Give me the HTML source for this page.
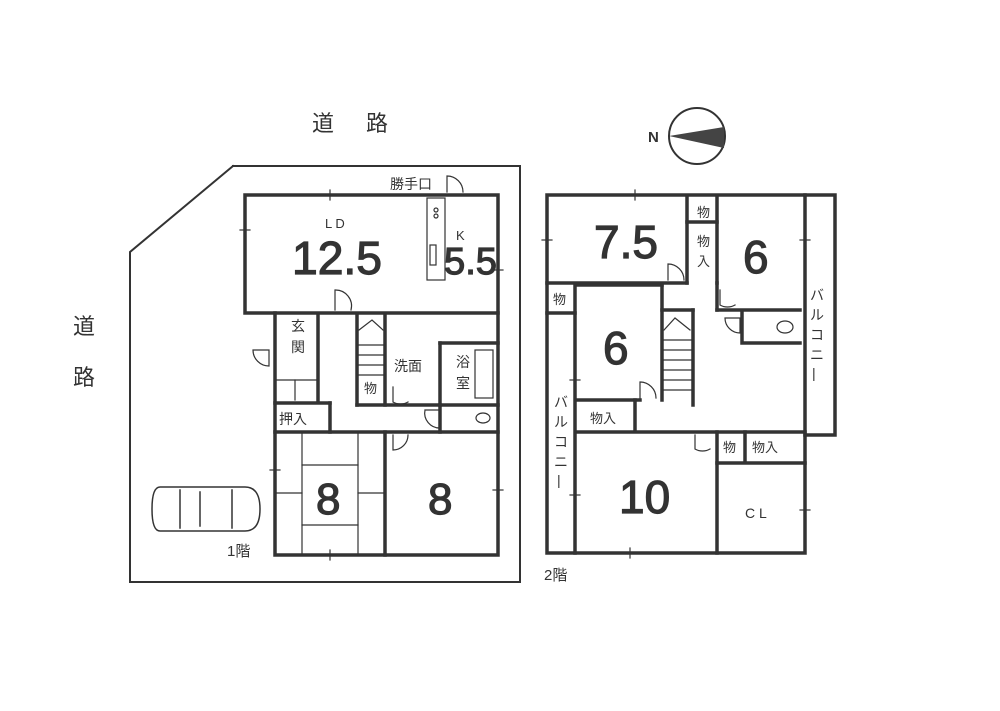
<!DOCTYPE html>
<html><head><meta charset="utf-8"><style>
body{margin:0;background:#fff}
svg text{font-family:"Liberation Sans","Noto Sans CJK JP",sans-serif;fill:#333}
.j{font-family:"Noto Sans CJK JP",sans-serif}
.n{stroke:#333;stroke-width:1.2}
</style></head><body>
<svg width="1000" height="706" viewBox="0 0 1000 706" xmlns="http://www.w3.org/2000/svg">
<rect width="1000" height="706" fill="#fff"/>
<g fill="none" stroke="#333" stroke-linecap="square">
<polyline points="233,166 520,166 520,582 130,582 130,252 233,166" stroke-width="2"/>
<g stroke-width="3.5">
<rect x="245" y="195" width="253" height="118"/>
<polyline points="275,313 275,555 498,555 498,313"/>
<line x1="318" y1="315" x2="318" y2="400"/>
<line x1="275" y1="403" x2="330" y2="403"/>
<line x1="330" y1="403" x2="330" y2="432"/>
<line x1="275" y1="432" x2="498" y2="432"/>
<line x1="385" y1="432" x2="385" y2="555"/>
<line x1="357" y1="315" x2="357" y2="405"/>
<line x1="385" y1="315" x2="385" y2="405"/>
<line x1="357" y1="405" x2="440" y2="405"/>
<line x1="440" y1="343" x2="440" y2="432"/>
<line x1="440" y1="343" x2="498" y2="343"/>
<line x1="440" y1="405" x2="498" y2="405"/>
</g>
<g stroke-width="1.2">
<rect x="427" y="198" width="18" height="82"/>
<rect x="430" y="245" width="6" height="20"/>
<circle cx="436" cy="210" r="2"/><circle cx="436" cy="216" r="2"/>
<line x1="302" y1="434" x2="302" y2="553"/><line x1="358" y1="434" x2="358" y2="553"/>
<line x1="302" y1="465" x2="358" y2="465"/><line x1="302" y1="525" x2="358" y2="525"/>
<line x1="277" y1="493" x2="302" y2="493"/><line x1="358" y1="493" x2="383" y2="493"/>
<line x1="359" y1="345" x2="383" y2="345"/><line x1="359" y1="355" x2="383" y2="355"/><line x1="359" y1="365" x2="383" y2="365"/><line x1="359" y1="375" x2="383" y2="375"/>
<polyline points="359,330 372,320 383,330"/>
<rect x="475" y="350" width="18" height="48"/>
<ellipse cx="483" cy="418" rx="7" ry="5"/>
<path d="M447,192 v-16 a16,16 0 0 1 16,16"/>
<path d="M335,310 v-20 a16,16 0 0 1 16,20"/>
<path d="M253,350 h16 v16 a16,16 0 0 1 -16,-16"/>
<path d="M393,387 v15 a15,15 0 0 0 15,0"/>
<path d="M393,435 v15 a15,15 0 0 0 15,-15"/>
<path d="M425,410 h15 v18 a15,15 0 0 1 -15,-18"/>
<line x1="240" y1="230" x2="250" y2="230"/><line x1="493" y1="270" x2="503" y2="270"/>
<line x1="270" y1="470" x2="280" y2="470"/><line x1="493" y1="490" x2="503" y2="490"/>
<line x1="330" y1="190" x2="330" y2="200"/><line x1="330" y1="550" x2="330" y2="560"/>
<line x1="295" y1="380" x2="295" y2="400"/><line x1="277" y1="380" x2="316" y2="380"/>
</g>
<g stroke-width="3.5">
<rect x="547" y="195" width="258" height="358"/>
<line x1="547" y1="283" x2="687" y2="283"/>
<line x1="687" y1="197" x2="687" y2="283"/>
<line x1="717" y1="197" x2="717" y2="283"/>
<line x1="687" y1="222" x2="717" y2="222"/>
<line x1="717" y1="283" x2="717" y2="310"/>
<line x1="717" y1="310" x2="800" y2="310"/>
<polyline points="805,195 835,195 835,435 805,435"/>
<line x1="547" y1="313" x2="575" y2="313"/>
<line x1="575" y1="285" x2="575" y2="553"/>
<line x1="578" y1="285" x2="662" y2="285"/>
<line x1="662" y1="285" x2="662" y2="400"/>
<line x1="578" y1="400" x2="640" y2="400"/>
<line x1="635" y1="400" x2="635" y2="430"/>
<line x1="578" y1="432" x2="805" y2="432"/>
<line x1="662" y1="310" x2="693" y2="310"/><line x1="693" y1="310" x2="693" y2="405"/>
<polyline points="742,313 742,343 800,343"/>
<line x1="717" y1="432" x2="717" y2="553"/>
<line x1="745" y1="432" x2="745" y2="462"/>
<line x1="717" y1="463" x2="805" y2="463"/>
</g>
<g stroke-width="1.2">
<line x1="664" y1="340" x2="691" y2="340"/><line x1="664" y1="350" x2="691" y2="350"/><line x1="664" y1="360" x2="691" y2="360"/><line x1="664" y1="370" x2="691" y2="370"/><line x1="664" y1="380" x2="691" y2="380"/><line x1="664" y1="390" x2="691" y2="390"/>
<polyline points="664,330 675,318 690,330"/>
<ellipse cx="785" cy="327" rx="8" ry="6"/>
<path d="M668,280 v-16 a16,16 0 0 1 16,16"/>
<path d="M640,398 v-16 a16,16 0 0 1 16,16"/>
<path d="M720,290 v15 a15,15 0 0 0 15,0"/>
<path d="M725,318 h15 v15 a15,15 0 0 1 -15,-15"/>
<path d="M695,435 v14 a15,15 0 0 0 15,0"/>
<line x1="542" y1="240" x2="552" y2="240"/><line x1="800" y1="240" x2="810" y2="240"/>
<line x1="570" y1="380" x2="580" y2="380"/><line x1="570" y1="495" x2="580" y2="495"/>
<line x1="800" y1="510" x2="810" y2="510"/><line x1="635" y1="190" x2="635" y2="200"/>
<line x1="630" y1="548" x2="630" y2="558"/>
<circle cx="697" cy="136" r="28" stroke-width="2"/>
</g>
<polygon points="669,136 724,127 724,148" fill="#444" stroke="none"/>
<g stroke-width="1.5">
<path d="M160,487 h85 q15,0 15,22 q0,22 -15,22 h-85 q-8,0 -8,-22 q0,-22 8,-22z"/>
<line x1="180" y1="490" x2="180" y2="528"/><line x1="232" y1="490" x2="232" y2="528"/>
<line x1="200" y1="492" x2="200" y2="526"/>
</g>
</g>
<g class="j">
<text x="312" y="131" font-size="22">道</text><text x="366" y="131" font-size="22">路</text>
<text x="73" y="334" font-size="22">道</text><text x="73" y="385" font-size="22">路</text>
<text x="390" y="189" font-size="14">勝手口</text>
<text x="291" y="331" font-size="14">玄</text><text x="291" y="352" font-size="14">関</text>
<text x="279" y="424" font-size="14">押入</text>
<text x="364" y="393" font-size="13">物</text>
<text x="394" y="371" font-size="14">洗面</text>
<text x="456" y="367" font-size="14">浴</text><text x="456" y="388" font-size="14">室</text>
<text x="227" y="556" font-size="15">1階</text>
<text x="544" y="580" font-size="15">2階</text>
<text x="697" y="217" font-size="13">物</text>
<text x="697" y="246" font-size="13">物</text><text x="697" y="266" font-size="13">入</text>
<text x="553" y="304" font-size="13">物</text>
<text x="590" y="423" font-size="13">物入</text>
<text x="723" y="452" font-size="13">物</text><text x="752" y="452" font-size="13">物入</text>
<text x="810" y="300" font-size="14">バ</text><text x="810" y="320" font-size="14">ル</text><text x="810" y="340" font-size="14">コ</text><text x="810" y="360" font-size="14">ニ</text><text x="812" y="378" font-size="14">|</text>
<text x="554" y="407" font-size="14">バ</text><text x="554" y="427" font-size="14">ル</text><text x="554" y="447" font-size="14">コ</text><text x="554" y="467" font-size="14">ニ</text><text x="557" y="485" font-size="14">|</text>
</g>
<text x="325" y="228" font-size="13">L D</text>
<text class="n" x="292" y="274" font-size="46" textLength="90" lengthAdjust="spacingAndGlyphs">12.5</text>
<text x="456" y="240" font-size="13">K</text>
<text class="n" x="444" y="274" font-size="38" textLength="53" lengthAdjust="spacingAndGlyphs">5.5</text>
<text class="n" x="316" y="514" font-size="44">8</text>
<text class="n" x="428" y="514" font-size="44">8</text>
<text class="n" x="594" y="258" font-size="46" textLength="64" lengthAdjust="spacingAndGlyphs">7.5</text>
<text class="n" x="743" y="273" font-size="46">6</text>
<text class="n" x="603" y="364" font-size="46">6</text>
<text class="n" x="619" y="513" font-size="46">10</text>
<text x="745" y="518" font-size="14">C L</text>
<text x="648" y="142" font-size="15" font-weight="bold">N</text>
</svg>
</body></html>
